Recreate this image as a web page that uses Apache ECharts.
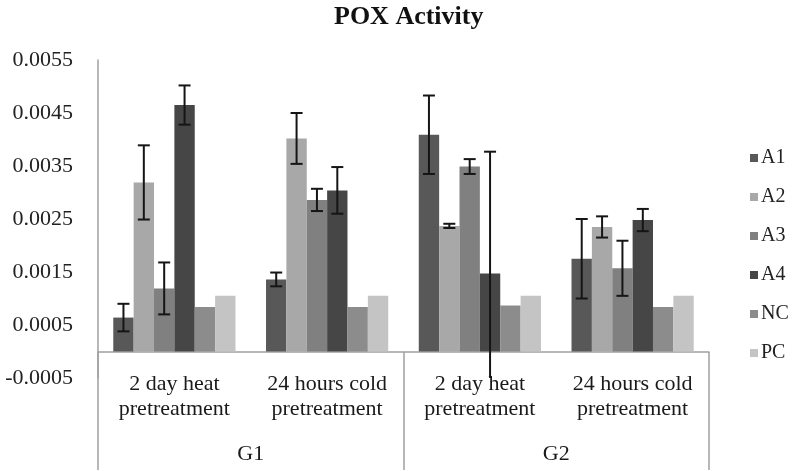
<!DOCTYPE html>
<html><head><meta charset="utf-8">
<script src="https://cdn.jsdelivr.net/npm/echarts@6/dist/echarts.min.js"></script>
<style>html,body{margin:0;background:#fff}#c{width:800px;height:471px}</style>
</head><body><div id="c"></div>
<script>
const categories = ['2 day heat\npretreatment', '24 hours cold\npretreatment', '2 day heat\npretreatment', '24 hours cold\npretreatment'];
const groups = ['G1', 'G2'];
const seriesNames = ['A1', 'A2', 'A3', 'A4', 'NC', 'PC'];
const A1 = [0.00064, 0.00136, 0.00409, 0.00175];
const A2 = [0.00319, 0.00402, 0.00237, 0.00235];
const A3 = [0.00119, 0.00286, 0.00349, 0.00157];
const A4 = [0.00465, 0.00304, 0.00147, 0.00248];
const NC = [0.00084, 0.00084, 0.00087, 0.00084];
const PC = [0.00105, 0.00105, 0.00105, 0.00105];
const A1err = [0.00026, 0.00013, 0.00074, 0.00075];
const A2err = [0.00070, 0.00048, 0.00004, 0.00020];
const A3err = [0.00049, 0.00021, 0.00014, 0.00052];
const A4err = [0.00037, 0.00044, 0.00230, 0.00021];
const yMin = -0.0005, yMax = 0.0055, yStep = 0.001;

const values = [A1, A2, A3, A4, NC, PC];
const errors = [A1err, A2err, A3err, A4err, null, null];
const colors = ['#585858', '#a8a8a8', '#808080', '#464646', '#8c8c8c', '#c4c4c4'];
const serif = '"Liberation Serif", "DejaVu Serif", serif';

function errRender(si) {
  return function (params, api) {
    const cat = api.value(0), v = api.value(1), e = api.value(2);
    const bw = api.size([1, 0])[0] * 0.8 / 6;
    const cx = api.coord([cat, 0])[0] + (si - 2.5) * bw;
    const top = api.coord([cat, v + e])[1];
    const lowV = Math.max(v - e, yMin);
    const bot = api.coord([cat, lowV])[1];
    const hw = 6;
    const st = { stroke: '#151515', lineWidth: 2 };
    const children = [
      { type: 'line', shape: { x1: cx, y1: top, x2: cx, y2: bot }, style: st },
      { type: 'line', shape: { x1: cx - hw, y1: top, x2: cx + hw, y2: top }, style: st }
    ];
    if (v - e >= yMin) children.push({ type: 'line', shape: { x1: cx - hw, y1: bot, x2: cx + hw, y2: bot }, style: st });
    return { type: 'group', children: children };
  };
}

const series = [];
seriesNames.forEach(function (n, i) {
  series.push({
    name: n, type: 'bar', data: values[i], barGap: '0%', barCategoryGap: '20%',
    itemStyle: { color: colors[i] }
  });
});
seriesNames.forEach(function (n, i) {
  if (!errors[i]) return;
  series.push({
    type: 'custom', name: n + ' err', xAxisIndex: 0, yAxisIndex: 0, z: 5,
    data: values[i].map(function (v, k) { return [k, v, errors[i][k]]; }),
    encode: { x: 0, y: 1 },
    renderItem: errRender(i),
    silent: true
  });
});

const chart = echarts.init(document.getElementById('c'), null, { renderer: 'canvas' });
chart.setOption({
  animation: false,
  backgroundColor: '#ffffff',
  title: {
    text: 'POX Activity', left: 329, top: -1,
    textStyle: { fontFamily: serif, fontWeight: 'bold', fontSize: 26, color: '#111' }
  },
  legend: {
    data: seriesNames, orient: 'vertical', left: 745, top: 143,
    itemWidth: 8, itemHeight: 8, itemGap: 19, icon: 'rect',
    textStyle: { fontFamily: serif, fontSize: 20, color: '#222', lineHeight: 20, padding: [0, 0, 0, -2] }
  },
  grid: { left: 98, right: 91, top: 60, bottom: 93, outerBoundsMode: 'none' },
  xAxis: [
    {
      type: 'category', data: categories,
      axisLine: { show: true, onZero: true, lineStyle: { color: '#a0a0a0', width: 1.5 } },
      axisTick: { show: false },
      axisLabel: { fontFamily: serif, fontSize: 22, color: '#1a1a1a', lineHeight: 25, margin: -6, interval: 0 }
    },
    {
      type: 'category', data: groups, position: 'bottom', offset: -26,
      axisLine: { show: false, onZero: false },
      axisTick: { show: true, length: 118, lineStyle: { color: '#a0a0a0', width: 1.5 } },
      axisLabel: { fontFamily: serif, fontSize: 22, color: '#1a1a1a', margin: 91 }
    }
  ],
  yAxis: {
    type: 'value', min: yMin, max: yMax, interval: yStep,
    axisLine: { show: true, lineStyle: { color: '#a0a0a0', width: 1.5 } },
    axisTick: { show: false },
    splitLine: { show: false },
    axisLabel: {
      fontFamily: serif, fontSize: 22, color: '#222', margin: 25,
      formatter: function (v) { return v.toFixed(4); }
    }
  },
  series: series
});
</script>
</body></html>
